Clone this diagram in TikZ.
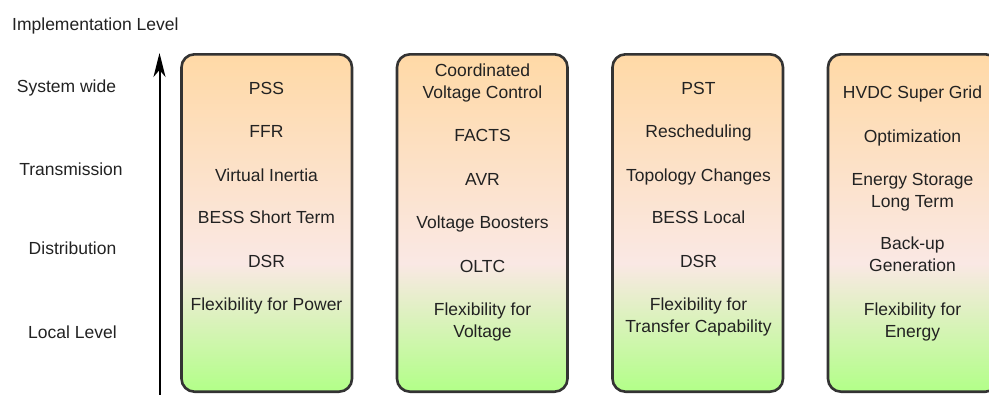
\documentclass[tikz,border=0pt]{standalone}
\usepackage{fontspec}
\setmainfont{Liberation Sans}
\usetikzlibrary{arrows.meta}
\definecolor{txt}{HTML}{222222}
\definecolor{edge}{HTML}{333333}
\definecolor{flexgreen}{RGB}{178,255,136}
\definecolor{flexpink}{RGB}{250,232,228}
\definecolor{flexorange}{RGB}{255,217,166}
\pgfdeclareverticalshading{flexshade}{100bp}{%
  color(0bp)=(flexgreen);
  color(25bp)=(flexgreen);
  color(44bp)=(flexpink);
  color(75bp)=(flexorange);
  color(100bp)=(flexorange)}
\begin{document}
\begin{tikzpicture}[x=1pt,y=-1pt,
  lbl/.style={anchor=base,inner sep=0pt,text=txt,font=\fontsize{17.5}{22}\selectfont,align=center},
  flexbox/.style={draw=edge,line width=2.6pt,rounded corners=13pt,shading=flexshade},
  axisarrow/.style={line width=2pt,-{Stealth[length=24pt,width=12pt,inset=7pt]}}]
\useasboundingbox (0,0) rectangle (989,394);
\clip (0,0) rectangle (989,394);
% boxes
\path[flexbox] (181.5,54.3) rectangle (352,391.7);
\path[flexbox] (397,54.3) rectangle (567.5,391.7);
\path[flexbox] (612.5,54.3) rectangle (783,391.7);
\path[flexbox] (828,54.3) rectangle (998.5,391.7);
% axis
\coordinate (abot) at (159.5,400);
\coordinate (atop) at (159.5,53);
\draw[axisarrow] (abot) -- (atop);
% labels
\node[lbl,anchor=base west] (title) at (12,30) {Implementation Level};
\node[lbl] (l1) at (66.5,92) {System wide};
\node[lbl] (l2) at (71,175) {Transmission};
\node[lbl] (l3) at (72.5,254) {Distribution};
\node[lbl] (l4) at (72.5,338) {Local Level};
% box 1
\node[lbl] (a1) at (266.5,94) {PSS};
\node[lbl] (a2) at (266.5,137) {FFR};
\node[lbl] (a3) at (266.5,181) {Virtual Inertia};
\node[lbl] (a4) at (266.5,223) {BESS Short Term};
\node[lbl] (a5) at (266.5,267) {DSR};
\node[lbl] (a6) at (266.5,310) {Flexibility for Power};
% box 2 (multi-line nodes: base = last line)
\node[lbl] (b1) at (482.5,98) {Coordinated\\Voltage Control};
\node[lbl] (b2) at (482.5,141) {FACTS};
\node[lbl] (b3) at (482.5,185) {AVR};
\node[lbl] (b4) at (482.5,228) {Voltage Boosters};
\node[lbl] (b5) at (482.5,272) {OLTC};
\node[lbl] (b6) at (482.5,337) {Flexibility for\\Voltage};
% box 3
\node[lbl] (c1) at (698.5,94) {PST};
\node[lbl] (c2) at (698.5,137) {Rescheduling};
\node[lbl] (c3) at (698.5,181) {Topology Changes};
\node[lbl] (c4) at (698.5,223) {BESS Local};
\node[lbl] (c5) at (698.5,267) {DSR};
\node[lbl] (c6) at (698.5,332) {Flexibility for\\Transfer Capability};
% box 4
\node[lbl] (d1) at (912.5,98) {HVDC Super Grid};
\node[lbl] (d2) at (912.5,142) {Optimization};
\node[lbl] (d3) at (912.5,207) {Energy Storage\\Long Term};
\node[lbl] (d4) at (912.5,271) {Back-up\\Generation};
\node[lbl] (d5) at (912.5,337) {Flexibility for\\Energy};
\end{tikzpicture}
\end{document}
